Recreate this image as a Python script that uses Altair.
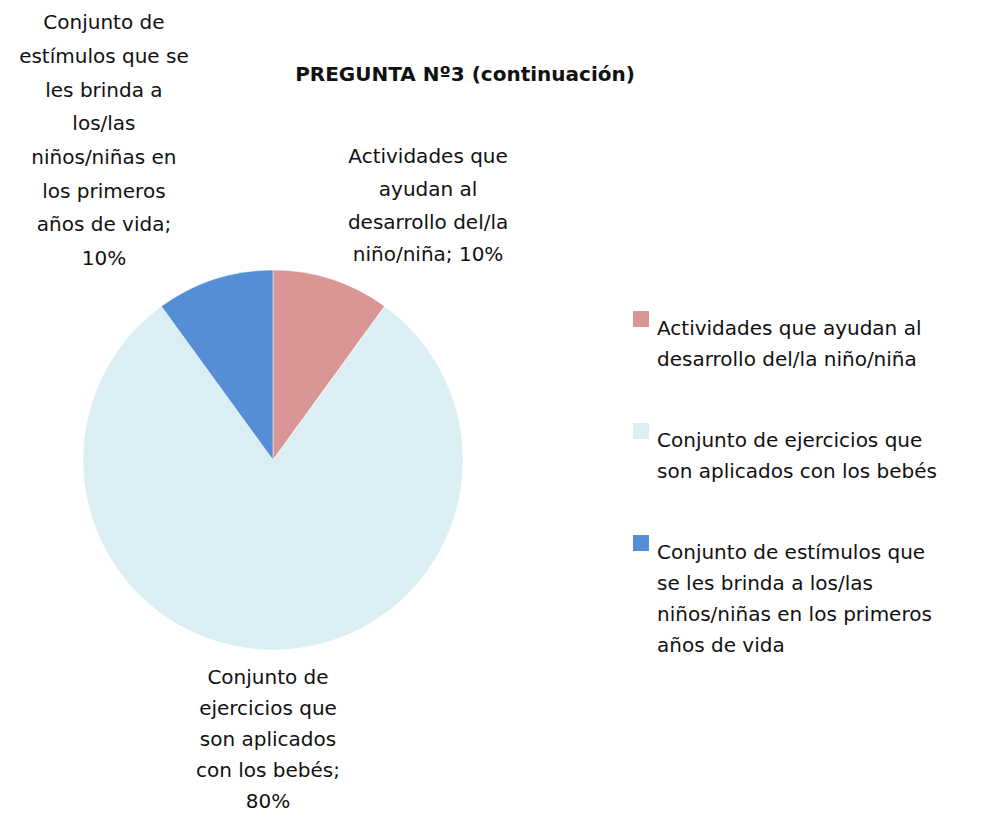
import json
import altair as alt
import pandas as pd

categories = [
    "Actividades que ayudan al desarrollo del/la niño/niña",
    "Conjunto de ejercicios que son aplicados con los bebés",
    "Conjunto de estímulos que se les brinda a los/las niños/niñas en los primeros años de vida",
]
values = [10, 80, 10]
colors = ["#D99694", "#DAEEF3", "#558ED5"]
pie_labels = [
    "Actividades que|ayudan al|desarrollo del/la|niño/niña; 10%",
    "Conjunto de|ejercicios que|son aplicados|con los bebés;|80%",
    "Conjunto de|estímulos que se|les brinda a|los/las|niños/niñas en|los primeros|años de vida;|10%",
]
legend_labels = [
    ["Actividades que ayudan al", "desarrollo del/la niño/niña"],
    ["Conjunto de ejercicios que", "son aplicados con los bebés"],
    ["Conjunto de estímulos que", "se les brinda a los/las", "niños/niñas en los primeros", "años de vida"],
]
title_text = "PREGUNTA Nº3 (continuación)"

df = pd.DataFrame({
    "category": categories,
    "value": values,
    "order": list(range(len(categories))),
    "label": pie_labels,
})

FONT = "DejaVu Sans"
FS = 20
CX, CY, R = 265, 452, 190
label_map = json.dumps(dict(zip(categories, legend_labels)), ensure_ascii=False)

base = alt.Chart(df)

pie = base.mark_arc(outerRadius=R, stroke="white", strokeWidth=0.5).encode(
    x=alt.value(CX),
    y=alt.value(CY),
    theta=alt.Theta("value:Q", stack=True),
    order=alt.Order("order:Q"),
    color=alt.Color(
        "category:N",
        scale=alt.Scale(domain=categories, range=colors),
        sort=categories,
        legend=alt.Legend(
            title=None,
            orient="none",
            legendX=623,
            legendY=301,
            symbolType="square",
            symbolSize=256,
            symbolStrokeWidth=0,
            labelFont=FONT,
            labelFontSize=FS,
            labelColor="#111111",
            labelLimit=0,
            labelOffset=6,
            labelBaseline="top",
            labelExpr=f"{label_map}[datum.label]",
            rowPadding=51,
        ),
    ),
)

# (dx, dy, lineHeight) of each label relative to its mid-angle anchor at radius 230
offsets = [(84, -84, 32.7), (-5, -12, 31), (-98, -218, 33.7)]
text_layers = []
for i, (dx, dy, lh) in enumerate(offsets):
    t = base.transform_calculate(
        lines="split(datum.label, '|')"
    ).mark_text(
        font=FONT, fontSize=FS, lineHeight=lh, align="center", baseline="middle",
        color="#111111", dx=dx, dy=dy,
    ).encode(
        x=alt.value(CX),
        y=alt.value(CY),
        theta=alt.Theta("value:Q", stack=True),
        order=alt.Order("order:Q"),
        detail="category:N",
        radius=alt.value(230),
        text="lines:N",
        opacity=alt.condition(f"datum.order == {i}", alt.value(1), alt.value(0)),
    )
    text_layers.append(t)

title = alt.Chart(pd.DataFrame({"t": [title_text]})).mark_text(
    font=FONT, fontSize=20, fontWeight="bold", align="center", baseline="middle", color="#111111",
).encode(x=alt.value(457), y=alt.value(67), text="t:N")

chart = alt.layer(pie, *text_layers, title).properties(
    width=971, height=805, autosize=alt.AutoSizeParams(type="none"), padding=0,
).configure(
    style={"guide-label": {"lineHeight": 31}}
).configure_view(stroke=None)

chart.save("out.html", embed_options={"renderer": "svg", "actions": False})
